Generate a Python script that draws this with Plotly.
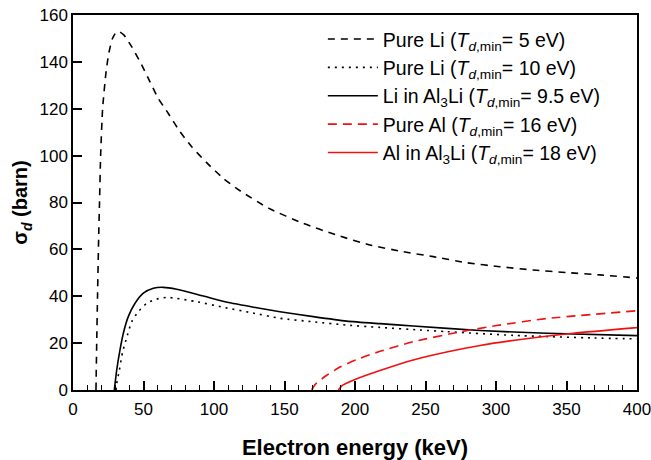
import plotly.graph_objects as go

# Pure Li (Td,min = 5 eV)
li5_E = [16.3, 16.8, 17.4, 18.2, 18.8, 19.6, 21.0, 23.5, 25.5, 28.0, 30.5, 32.8, 36.0, 41.6, 48.7, 54.6,
         60.5, 67.6, 75.9, 84.2, 94.8, 106.6, 118.5, 139.0, 163.3, 187.0, 210.6, 234.3, 255.5, 279.2,
         302.8, 326.5, 350.1, 373.8, 400.0]
li5_S = [0.0, 20.0, 40.0, 65.0, 80.0, 100.0, 120.0, 136.0, 144.0, 150.0, 152.5, 152.9, 151.5, 146.5, 138.7, 131.5,
         124.4, 118.0, 110.2, 103.8, 97.0, 90.3, 85.0, 77.5, 71.1, 66.1, 61.9, 59.0, 56.9, 54.3,
         52.6, 51.2, 50.1, 49.1, 47.8]

# Pure Li (Td,min = 10 eV)
li10_E = [30.5, 31.0, 32.9, 35.2, 37.6, 41.6, 46.3, 52.3, 59.3, 66.4, 73.5, 80.6, 87.7, 106.6, 125.5,
          146.8, 170.4, 194.1, 217.7, 246.0, 265.0, 312.3, 369.0, 400.0]
li10_S = [0.0, 2.8, 8.5, 16.3, 21.3, 29.1, 33.4, 37.0, 38.8, 39.5, 39.1, 38.4, 37.7, 35.3, 33.1,
          30.6, 29.1, 27.7, 26.7, 25.6, 24.9, 23.3, 22.2, 21.8]

# Li in Al3Li (Td,min = 9.5 eV)
lial_E = [29.3, 31.0, 33.3, 35.7, 39.2, 44.0, 49.9, 57.0, 64.0, 73.5, 92.4, 111.3, 130.3, 146.8,
          170.4, 194.1, 217.7, 241.3, 288.7, 336.0, 400.0]
lial_S = [0.0, 8.5, 17.0, 24.2, 31.3, 37.0, 41.3, 43.4, 43.8, 43.0, 40.1, 37.2, 35.1, 33.4,
          31.3, 29.4, 28.3, 27.3, 25.4, 24.2, 23.2]

# Pure Al (Td,min = 16 eV)
al16_E = [169.3, 172.0, 180.0, 190.0, 203.5, 217.7, 241.3, 274.5, 300.5, 336.0, 400.0]
al16_S = [0.0, 2.5, 6.3, 10.0, 13.5, 16.5, 20.6, 24.8, 27.5, 30.5, 33.8]

# Al in Al3Li (Td,min = 18 eV)
alal_E = [188.2, 191.0, 198.8, 217.7, 241.3, 265.0, 288.7, 324.1, 354.8, 400.0]
alal_S = [0.0, 2.0, 4.2, 8.3, 12.8, 16.2, 19.0, 22.1, 24.2, 26.6]

FONT = "Liberation Sans, Arial, sans-serif"

series = [
    (li5_E, li5_S, "Pure Li (<i>T</i><sub><i>d</i>,min</sub>= 5 eV)", "black", "7px,6px"),
    (li10_E, li10_S, "Pure Li (<i>T</i><sub><i>d</i>,min</sub>= 10 eV)", "black", "2px,5px"),
    (lial_E, lial_S, "Li in Al<sub>3</sub>Li (<i>T</i><sub><i>d</i>,min</sub>= 9.5 eV)", "black", "solid"),
    (al16_E, al16_S, "Pure Al (<i>T</i><sub><i>d</i>,min</sub>= 16 eV)", "#f01010", "9px,6px"),
    (alal_E, alal_S, "Al in Al<sub>3</sub>Li (<i>T</i><sub><i>d</i>,min</sub>= 18 eV)", "#f01010", "solid"),
]

fig = go.Figure()
for x, y, name, color, dash in series:
    fig.add_trace(go.Scatter(x=x, y=y, mode="lines", name=name,
                             line=dict(color=color, width=1.6, dash=dash, shape="spline", smoothing=0.6)))

fig.update_layout(
    width=651, height=460,
    margin=dict(l=73, r=14, t=15, b=70, autoexpand=False),
    paper_bgcolor="white", plot_bgcolor="white",
    font=dict(family=FONT, size=17, color="black"),
    showlegend=True,
    legend=dict(x=0.443, y=0.987, xanchor="left", yanchor="top",
                bgcolor="rgba(0,0,0,0)", font=dict(size=19.5), itemwidth=50,
                tracegroupgap=0),
)
fig.update_xaxes(
    range=[0, 400], tickvals=[0, 50, 100, 150, 200, 250, 300, 350, 400],
    ticks="inside", ticklen=9, tickwidth=1.5, tickcolor="black",
    minor=dict(dtick=10, ticks="inside", ticklen=5, tickwidth=1.2, tickcolor="black"),
    showline=True, linecolor="black", linewidth=1.5, mirror=True,
    showgrid=False, zeroline=False, automargin=False,
    tickfont=dict(size=17), ticklabeloverflow="allow", ticklabelstandoff=3,
    title=dict(text="<b>Electron energy (keV)</b>", font=dict(size=22), standoff=22),
)
fig.update_yaxes(
    range=[0, 160], tickvals=[0, 20, 40, 60, 80, 100, 120, 140, 160],
    ticks="inside", ticklen=9, tickwidth=1.5, tickcolor="black",
    showline=True, linecolor="black", linewidth=1.5, mirror=True,
    showgrid=False, zeroline=False, automargin=False,
    tickfont=dict(size=17),
    title=dict(text="<b>σ<sub><i>d</i></sub> (barn)</b>", font=dict(size=20), standoff=6),
)

fig.write_html("out.html")
